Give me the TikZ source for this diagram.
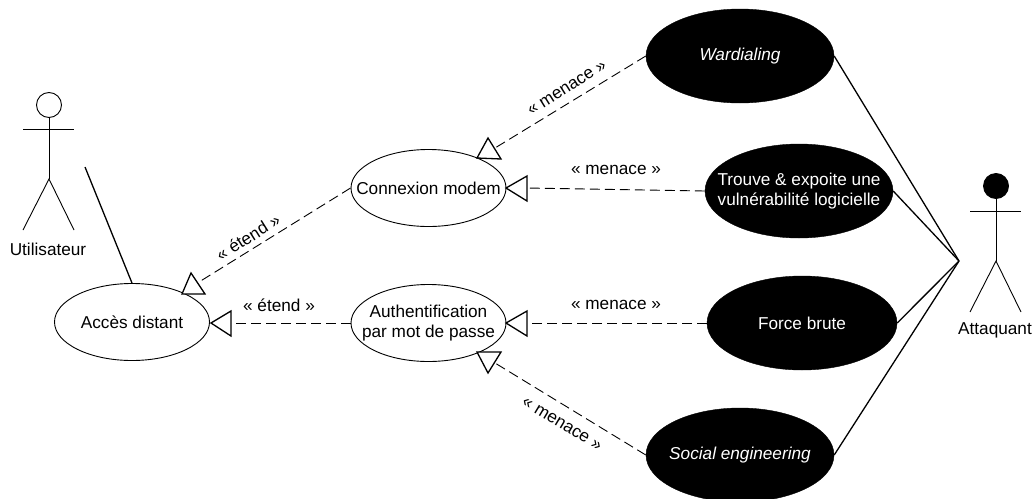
\documentclass[tikz,border=0pt]{standalone}
\usepackage{fontspec}
\setmainfont{Liberation Sans}
\usetikzlibrary{shapes.geometric}
\tikzset{
  every node/.style={font=\fontsize{17.2}{20}\selectfont, inner sep=0pt},
  usecase/.style={ellipse, draw=black, line width=0.9pt, fill=white, align=center, inner sep=-32pt, minimum width=155pt, minimum height=77pt},
  threat/.style={ellipse, draw=black, fill=black, text=white, align=center, inner sep=-32pt, minimum width=188pt, minimum height=94pt},
  assoc/.style={line width=1.3pt, draw=black},
  dep/.style={line width=0.9pt, draw=black, dash pattern=on 10pt off 5pt},
  tri/.style={line width=1.3pt, draw=black, fill=white, line join=miter},
  limb/.style={line width=0.9pt, draw=black}
}
\begin{document}
\begin{tikzpicture}[x=1pt,y=-1pt]
\useasboundingbox (0,0) rectangle (1033,498);
% use cases
\node[usecase] (acces) at (132,322) {Accès distant};
\node[usecase] (modem) at (428.5,188) {Connexion modem};
\node[usecase] (auth) at (428.5,323) {Authentification\\par mot de passe};
\node[threat] (war) at (740,56) {\itshape Wardialing};
\node[threat] (trouve) at (799,191) {Trouve \& expoite une\\vulnérabilité logicielle};
\node[threat, minimum width=190pt] (force) at (802,323) {Force brute};
\node[threat] (social) at (740,455) {\itshape Social engineering};
% left actor
\node[circle, draw=black, line width=0.9pt, minimum size=25pt] (uhead) at (49,105) {};
\coordinate (uhip) at (49,179);
\coordinate (ularm) at (23,129);
\coordinate (urarm) at (74,129);
\coordinate (ulfoot) at (23,230);
\coordinate (urfoot) at (74,230);
\draw[limb] (uhead.south) -- (uhip);
\draw[limb] (ularm) -- (urarm);
\draw[limb] (ulfoot) -- (uhip) -- (urfoot);
\node (ulabel) at (48,249) {Utilisateur};
% right actor
\node[circle, draw=black, fill=black, line width=0.9pt, minimum size=25pt] (ahead) at (996,186) {};
\coordinate (ahip) at (996,261);
\coordinate (alarm) at (970,211);
\coordinate (ararm) at (1021,211);
\coordinate (alfoot) at (970,312);
\coordinate (arfoot) at (1021,312);
\draw[limb] (ahead.south) -- (ahip);
\draw[limb] (alarm) -- (ararm);
\draw[limb] (alfoot) -- (ahip) -- (arfoot);
\node (alabel) at (995,330) {Attaquant};
% associations
\coordinate (ufree) at (85,167);
\coordinate (hub) at (959,261);
\draw[assoc] (ufree) -- (acces.north);
\draw[assoc] (war.east) -- (hub);
\draw[assoc] (trouve.east) -- (hub);
\draw[assoc] (force.east) -- (hub);
\draw[assoc] (social.east) -- (hub);
% dependency connectors
\coordinate (t1) at (199,282);
\coordinate (t2) at (231,323);
\coordinate (t3) at (495,148);
\coordinate (t4) at (527,188);
\coordinate (t5) at (527,323);
\coordinate (t6) at (495,363);
\draw[dep] (modem.west) -- (t1);
\draw[dep] (auth.west) -- (t2);
\draw[dep] (war.west) -- (t3);
\draw[dep] (trouve.west) -- (t4);
\draw[dep] (force.west) -- (t5);
\draw[dep] (social.west) -- (t6);
% open triangle heads
\draw[tri] (182,294) -- (205,294) -- (191,273) -- cycle;
\draw[tri] (211,323) -- (231,311) -- (231,336) -- cycle;
\draw[tri] (477,158) -- (501,159) -- (488,138) -- cycle;
\draw[tri] (506,188) -- (527,176) -- (527,201) -- cycle;
\draw[tri] (506,323) -- (527,311) -- (527,336) -- cycle;
\draw[tri] (477,352) -- (501,352) -- (488,373) -- cycle;
% labels
\node[rotate=32] (l1) at (248,237) {« étend »};
\node (l2) at (279,305) {« étend »};
\node[rotate=32] (l3) at (567,88) {« menace »};
\node (l4) at (616,170) {« menace »};
\node (l5) at (616,305) {« menace »};
\node[rotate=-31] (l6) at (562,424) {« menace »};
\end{tikzpicture}
\end{document}
